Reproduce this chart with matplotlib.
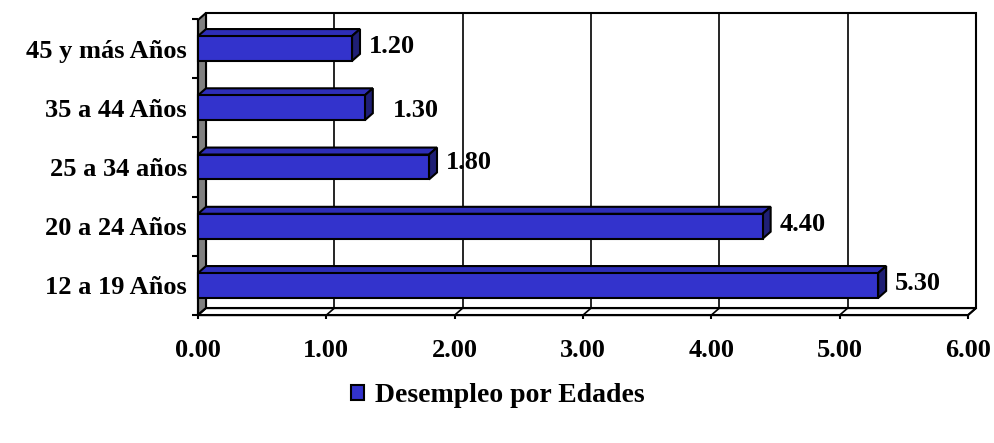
import matplotlib.pyplot as plt
from matplotlib.patches import Polygon
import numpy as np

categorias = ['12 a 19 Años', '20 a 24 Años', '25 a 34 años', '35 a 44 Años', '45 y más Años']
valores = [5.30, 4.40, 1.80, 1.30, 1.20]
etiquetas = ['5.30', '4.40', '1.80', '1.30', '1.20']
ticks_x = [0, 1, 2, 3, 4, 5, 6]
serie = 'Desempleo por Edades'

# colores y estilo
azul = '#3333CC'
azul_top = '#2E2EB8'
azul_lado = '#1F1F75'
gris = '#808080'
fuente = 'Liberation Serif'
tam = 19

# profundidad 3d (unidades de datos)
dx = 8 / 128.33
dy = 7 / 59.25
h = 0.42
top = 4.6

fig = plt.figure(figsize=(9.95, 4.43), dpi=100)
ax = fig.add_axes([190 / 995, (443 - 325) / 443, 800 / 995, 320 / 443])
ax.set_xlim(-8 / 128.33, (990 - 198) / 128.33)
ax.set_ylim((285.5 - 325) / 59.25, (285.5 - 5) / 59.25)

# pared de fondo
ax.add_patch(Polygon([(dx, -0.5 + dy), (6 + dx, -0.5 + dy), (6 + dx, top), (dx, top)],
                     closed=True, fc='white', ec='black', lw=1.5, zorder=1))
for k in ticks_x[1:-1]:
    ax.plot([k + dx, k + dx], [-0.5 + dy, top], color='black', lw=1.2, zorder=1.5)
# pared izquierda
ax.add_patch(Polygon([(0, -0.5), (dx, -0.5 + dy), (dx, top), (0, top - dy)],
                     closed=True, fc=gris, ec='black', lw=1.5, zorder=2))
# piso
ax.add_patch(Polygon([(0, -0.5), (6, -0.5), (6 + dx, -0.5 + dy), (dx, -0.5 + dy)],
                     closed=True, fc='white', ec='black', lw=1.5, zorder=2))
for k in ticks_x:
    ax.plot([k, k + dx], [-0.5, -0.5 + dy], color='black', lw=1.2, zorder=2.5)

# barras
y = np.arange(len(categorias))
ax.barh(y, valores, height=h, color=azul, edgecolor='black', lw=1.5, zorder=4)
for i, v in zip(y, valores):
    ax.add_patch(Polygon([(0, i + h / 2), (dx, i + h / 2 + dy), (v + dx, i + h / 2 + dy), (v, i + h / 2)],
                         closed=True, fc=azul_top, ec='black', lw=1.5, zorder=3.5))
    ax.add_patch(Polygon([(v, i - h / 2), (v, i + h / 2), (v + dx, i + h / 2 + dy), (v + dx, i - h / 2 + dy)],
                         closed=True, fc=azul_lado, ec='black', lw=1.5, zorder=3.5))

# etiquetas de valor
desplaz = [0.13, 0.13, 0.13, 0.22, 0.13]
subir = [0.03, 0.03, 0.08, -0.05, 0.04]
for i, v, t, d, s in zip(y, valores, etiquetas, desplaz, subir):
    ax.text(v + d, i + s, t, ha='left', va='center', fontsize=tam, fontweight='bold',
            family=fuente, zorder=5)

# ejes
for s in ['top', 'right']:
    ax.spines[s].set_visible(False)
ax.spines['bottom'].set_position(('data', -0.5))
ax.spines['bottom'].set_bounds(0, 6)
ax.spines['bottom'].set_linewidth(1.5)
ax.spines['left'].set_position(('data', 0))
ax.spines['left'].set_bounds(-0.5, top - dy)
ax.spines['left'].set_linewidth(1.5)
ax.spines['bottom'].set_zorder(3)
ax.spines['left'].set_zorder(3)

ax.set_xticks(ticks_x)
ax.set_xticklabels(['%.2f' % t for t in ticks_x], fontsize=tam, fontweight='bold', family=fuente)
ax.tick_params(axis='x', direction='out', length=3, width=1.5, pad=14)
ax.set_yticks(np.arange(-0.5, len(categorias), 1.0))
ax.set_yticklabels([])
ax.set_yticks(y, minor=True)
ax.set_yticklabels(categorias, minor=True, fontsize=tam, fontweight='bold', family=fuente)
ax.tick_params(axis='y', which='major', direction='out', length=4, width=1.5)
ax.tick_params(axis='y', which='minor', length=0, pad=8)
ax.patch.set_visible(False)

# leyenda
leg = fig.legend([plt.Rectangle((0, 0), 1, 1, fc=azul, ec='black', lw=1.5)], [serie],
                 loc='center', bbox_to_anchor=(498 / 995, 1 - 396 / 443), frameon=False,
                 prop={'family': fuente, 'weight': 'bold', 'size': 20},
                 handlelength=0.45, handleheight=0.45, handletextpad=0.4)

fig.savefig('out.png', dpi=100)
